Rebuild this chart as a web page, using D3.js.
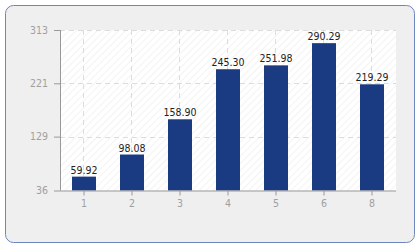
<!DOCTYPE html>
<html><head><meta charset="utf-8">
<script src="https://cdn.jsdelivr.net/npm/d3@7"></script>
<style>
html,body{margin:0;padding:0;background:#fff;}
svg{display:block;}
text{font-family:Tahoma,"DejaVu Sans Condensed","DejaVu Sans",sans-serif;font-stretch:condensed;}
</style></head>
<body>
<svg id="chart" width="420" height="250"></svg>
<script>
const categories = ["1","2","3","4","5","6","8"];
const values = [59.92, 98.08, 158.90, 245.30, 251.98, 290.29, 219.29];
const yTicks = [36, 129, 221, 313];

const svg = d3.select("#chart");
svg.append("rect").attr("x",5.5).attr("y",5.5).attr("width",409).attr("height",237)
  .attr("rx",8).attr("fill","#efefef").attr("stroke","#6f86bd").attr("stroke-width",1);

const pL=60, pR=396, pT=30, pB=190.5;
const x = d3.scaleBand().domain(categories).range([pL,pR]).paddingInner(0.5).paddingOuter(0.25);
const y = d3.scaleLinear().domain([36,313]).range([pB,pT]);

const defs = svg.append("defs");
const pat = defs.append("pattern").attr("id","hatch").attr("patternUnits","userSpaceOnUse")
  .attr("width",5).attr("height",5).attr("patternTransform","rotate(45)");
pat.append("rect").attr("width",5).attr("height",5).attr("fill","#ffffff");
pat.append("line").attr("x1",0).attr("y1",0).attr("x2",0).attr("y2",5).attr("stroke","#efefef").attr("stroke-width",1.5);

svg.append("rect").attr("x",pL).attr("y",pT).attr("width",pR-pL).attr("height",pB-pT).attr("fill","url(#hatch)");

// grid
const g = svg.append("g");
g.selectAll("line.h").data(yTicks.filter(d=>d!==36)).join("line")
  .attr("x1",pL).attr("x2",pR).attr("y1",d=>Math.round(y(d))+0.5).attr("y2",d=>Math.round(y(d))+0.5)
  .attr("stroke","#dcdcdc").attr("stroke-dasharray","5,4");
g.selectAll("line.v").data(categories).join("line")
  .attr("x1",d=>Math.round(x(d)+x.bandwidth()/2)-0.5).attr("x2",d=>Math.round(x(d)+x.bandwidth()/2)-0.5)
  .attr("y1",pT).attr("y2",pB)
  .attr("stroke","#dcdcdc").attr("stroke-dasharray","5,4");

// bars
svg.selectAll("rect.bar").data(values).join("rect").attr("class","bar")
  .attr("x",(d,i)=>x(categories[i])).attr("width",x.bandwidth())
  .attr("y",d=>y(d)).attr("height",d=>pB-y(d))
  .attr("fill","#1a3a82");

svg.selectAll("text.val").data(values).join("text").attr("class","val")
  .attr("x",(d,i)=>x(categories[i])+x.bandwidth()/2).attr("y",d=>y(d)-3)
  .attr("text-anchor","middle").attr("font-size",10.5).attr("fill","#222")
  .text(d=>d.toFixed(2));

// axes
const yAxis = d3.axisLeft(y).tickValues(yTicks).tickSize(6).tickPadding(6).tickFormat(d3.format("d"));
const ya = svg.append("g").attr("transform",`translate(${pL},0)`).call(yAxis);
const xAxis = d3.axisBottom(x).tickSize(5).tickPadding(4);
const xa = svg.append("g").attr("transform",`translate(0,${pB})`).call(xAxis);
[ya,xa].forEach(a=>{
  a.select(".domain").attr("stroke","#999").attr("d", a===ya ? `M0.5,${pT}V${pB}` : `M${pL},0.5H${pR}`);
  a.selectAll(".tick line").attr("stroke","#999");
  a.selectAll(".tick text").attr("fill","#a0a0a0").attr("font-size",10.5)
   .style("font-family",'Tahoma,"DejaVu Sans Condensed","DejaVu Sans",sans-serif');
});
</script>
</body></html>
